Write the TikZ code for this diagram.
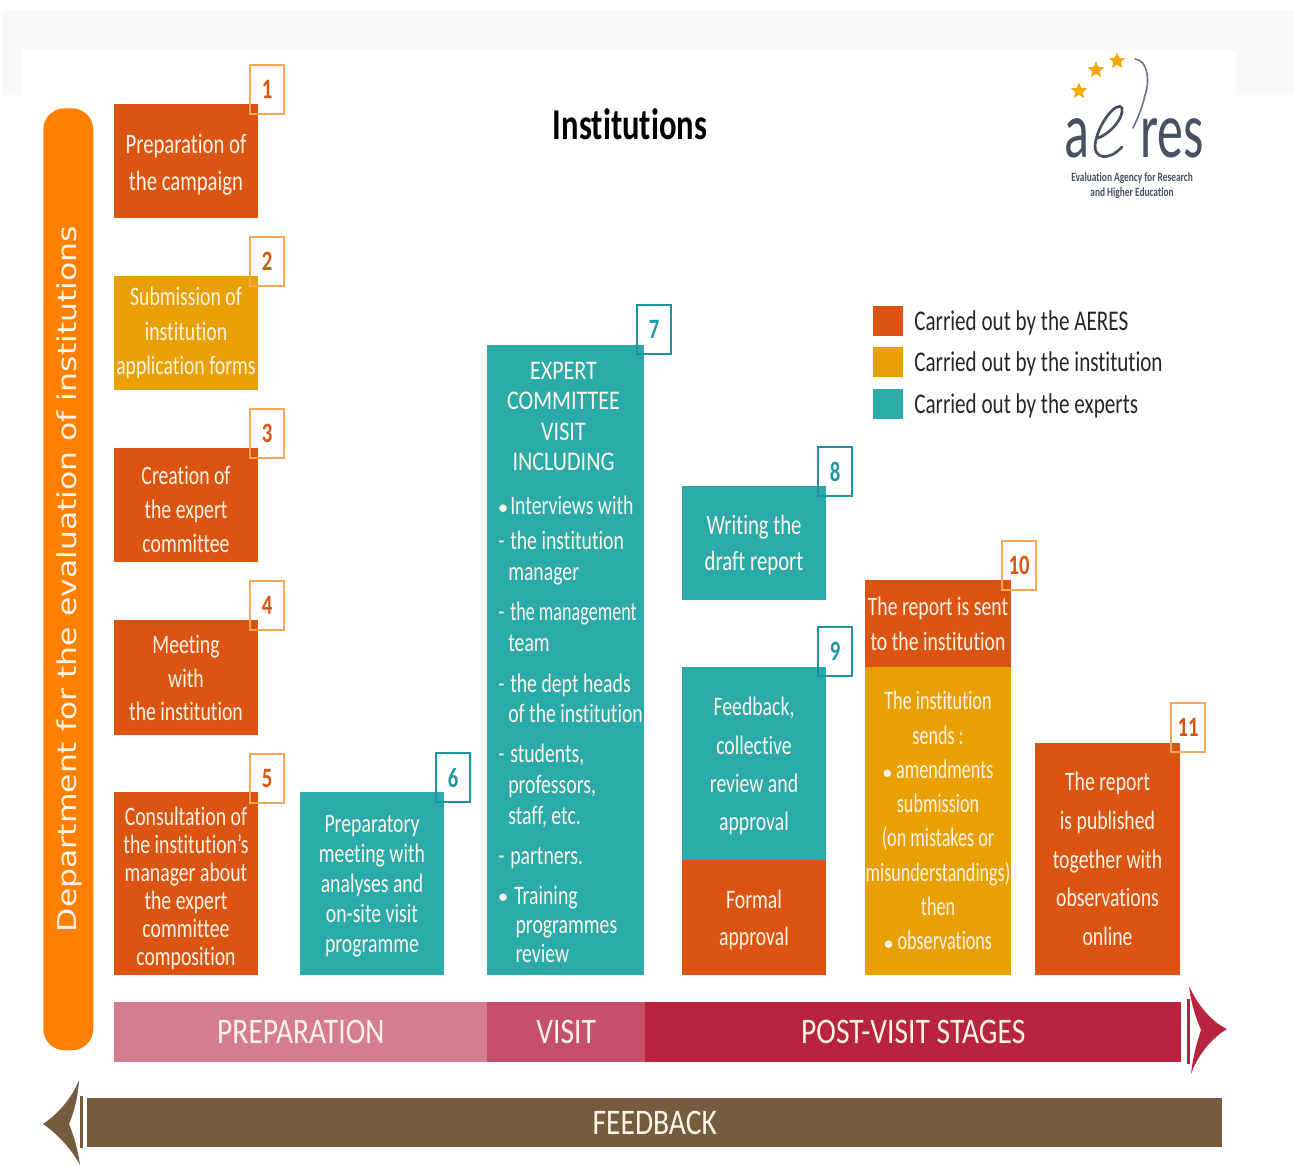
\documentclass[tikz,border=0pt]{standalone}
\usepackage{graphicx}
\usepackage{fontspec}
\setmainfont[FakeStretch=0.74,Ligatures=NoCommon]{Carlito}
\newfontfamily\narrowf[FakeStretch=0.68,Ligatures=NoCommon]{Carlito}
\newfontfamily\widef[FakeStretch=0.82,Ligatures=NoCommon]{Carlito}
\newfontfamily\logof[FakeStretch=0.65,Ligatures=NoCommon]{Carlito}
\newfontfamily\deptfont[FakeStretch=1.21]{DejaVu Sans}
\definecolor{aeres}{HTML}{DC5411}
\definecolor{inst}{HTML}{E8A002}
\definecolor{expert}{HTML}{2AABAA}
\definecolor{tagor}{HTML}{F7A655}
\definecolor{tagte}{HTML}{1E93A0}
\definecolor{prep}{HTML}{D67C8F}
\definecolor{visit}{HTML}{C55068}
\definecolor{post}{HTML}{B8233F}
\definecolor{fb}{HTML}{755C3F}
\definecolor{pill}{HTML}{FF8000}
\definecolor{logoc}{HTML}{465163}
\definecolor{starc}{HTML}{F2A900}
\definecolor{pale}{HTML}{F8F9FA}
\definecolor{txt}{HTML}{FFF4E8}
\usetikzlibrary{shapes.geometric}
\newcommand{\fs}[2]{\fontsize{#1}{#2}\selectfont}
\tikzset{
  stagebox/.style={anchor=north west,inner sep=0pt,outer sep=0pt},
  stagetext/.style={inner sep=0pt,align=center,text=txt},
  tagbox/.style={anchor=north west,inner sep=0pt,outer sep=0pt,draw,line width=1.3pt,font=\bfseries\fs{21}{21},minimum width=25.5pt,minimum height=37pt},
  bartext/.style={text=txt,font=\widef\fs{27}{27}},
  legendbox/.style={anchor=north west,inner sep=0pt,minimum width=22.5pt,minimum height=22.5pt},
  legendtext/.style={anchor=west,inner sep=0pt,text=black!85,font=\fs{21.4}{21.4}},
  logotext/.style={text=logoc,inner sep=0pt},
  starmark/.style={star,star points=5,star point ratio=2.3,fill=starc,inner sep=0pt,minimum size=13pt}
}
% name, x1, y1, x2, y2, colour, font, text shift (px down), text
\newcommand{\stagenode}[9]{%
  \node[stagebox,fill=#6,minimum width={(#4-#2)*0.75pt},minimum height={(#5-#3)*0.75pt}] (#1) at (#2,#3) {};
  \node[stagetext,font=#7,yshift={-(#8)*0.75pt}] (#1t) at (#1.center) {#9};}
\newcommand{\bul}{\makebox[9pt][l]{\fs{15}{15}\raisebox{1pt}{$\bullet$}}}
\newcommand{\dsh}{\makebox[9pt][l]{-}}
\newcommand{\ind}{\hspace*{7.5pt}}
\begin{document}
\begin{tikzpicture}[x=0.75pt,y=-0.75pt]
\useasboundingbox (0,0) rectangle (1294,1165);
\fill[white] (0,0) rectangle (1294,1165);
\fill[pale] (3,10) rectangle (1294,95);
\fill[white] (22,50) rectangle (1236,200);

% department pill
\node[rounded corners=16pt,fill=pill,inner sep=0pt,anchor=north west,minimum width=37.5pt,minimum height=706.5pt] (pillbox) at (43,108) {};
\node[rotate=90,text=txt,font=\deptfont\fs{19.5}{19.5},inner sep=0pt] (depttext) at (69,579) {Department for the evaluation of institutions};

% stages
\stagenode{s1}{114}{104}{258}{218}{aeres}{\fs{21}{27.5}}{4}{Preparation of\\the campaign}
\stagenode{s2}{114}{276}{258}{390}{inst}{\fs{20}{26}}{0}{Submission of\\institution\\application forms}
\stagenode{s3}{114}{448}{258}{562}{aeres}{\fs{20}{25.5}}{4}{Creation of\\the expert\\committee}
\stagenode{s4}{114}{620}{258}{735}{aeres}{\fs{20}{25}}{0.5}{Meeting\\with\\the institution}
\stagenode{s5}{114}{792}{258}{975}{aeres}{\fs{20}{21}}{4.5}{Consultation of\\the institution's\\manager about\\the expert\\committee\\composition}
\stagenode{s6}{300}{792}{444}{975}{expert}{\fs{20}{22.5}}{3}{Preparatory\\meeting with\\analyses and\\on-site visit\\programme}
\node[stagebox,fill=expert,minimum width=118pt,minimum height=472.5pt] (s7) at (487,345) {};
\node[anchor=north,text=txt,align=center,inner sep=0pt,font=\widef\fs{20.2}{22.8}] (s7head) at (563.5,362) {EXPERT\\COMMITTEE\\VISIT\\INCLUDING};
\node[anchor=north west,text=txt,align=left,inner sep=0pt,font=\fs{20}{23}] (s7list) at (498,496) {%
\bul Interviews with\\[3pt]
\dsh the institution\\
\ind manager\\[7.5pt]
\dsh{\narrowf the management}\\
\ind team\\[7.5pt]
\dsh the dept heads\\
\ind of the institution\\[7pt]
\dsh students,\\
\ind professors,\\
\ind staff, etc.\\[7pt]
\dsh partners.\\[7pt]
\makebox[12pt][l]{\fs{15}{15}\raisebox{1pt}{$\bullet$}}Training\\[-1pt]
\hspace*{13pt}programmes\\[-1pt]
\hspace*{13pt}review};
\stagenode{s8}{682}{486}{826}{600}{expert}{\fs{21}{27.5}}{2}{Writing the\\draft report}
\stagenode{s9a}{682}{667}{826}{860}{expert}{\fs{20}{28.6}}{2.5}{Feedback,\\collective\\review and\\approval}
\stagenode{s9b}{682}{860}{826}{975}{aeres}{\fs{20}{28}}{2.5}{Formal\\approval}
\stagenode{s10a}{865}{580}{1011}{667}{aeres}{\fs{20}{26}}{0}{The report is sent\\to the institution}
\stagenode{s10b}{865}{667}{1011}{975}{inst}{\narrowf\fs{20}{25.7}}{-0.5}{The institution\\sends :\\{\fs{15}{15}$\bullet$} amendments\\submission\\(on mistakes or\\misunderstandings)\\then\\{\fs{15}{15}$\bullet$} observations}
\stagenode{s11}{1035}{743}{1180}{975}{aeres}{\fs{20}{29}}{0}{The report\\is published\\together with\\observations\\online}

% number tags
\foreach \n/\x/\y/\c in {1/250/65/tagor,2/250/237/tagor,3/250/409/tagor,4/250/581/tagor,5/250/754/tagor,10/1002/541/tagor,11/1171/703/tagor}
  \node[tagbox,draw=\c,text=aeres] (tag\n) at (\x,\y) {\n};
\foreach \n/\x/\y/\c in {6/436/753/tagte,7/637/305/tagte,8/818/447/tagte,9/818/627/tagte}
  \node[tagbox,draw=\c,text=tagte!80!expert] (tag\n) at (\x,\y) {\n};

% title
\node[font=\bfseries\fs{33}{33},text=black,inner sep=0pt] (title) at (630,124) {Institutions};

% legend
\node[legendbox,fill=aeres] (k1) at (873,306) {};
\node[legendbox,fill=inst] (k2) at (873,347) {};
\node[legendbox,fill=expert] (k3) at (873,389) {};
\node[legendtext] (k1t) at (914,323) {Carried out by the AERES};
\node[legendtext] (k2t) at (914,364) {Carried out by the institution};
\node[legendtext] (k3t) at (914,406) {Carried out by the experts};

% logo
\node[starmark] (st1) at (1079,91) {};
\node[starmark] (st2) at (1096,70) {};
\node[starmark] (st3) at (1117,61) {};
\node[logotext,anchor=base,font=\logof\fs{60}{60}] (la) at (1077,157) {a};
\node[logotext,anchor=base,font=\logof\fs{60}{60}] (lr) at (1172,157) {res};
\draw[logoc,line width=2pt,line cap=round] (1098,138) .. controls (1110,134) and (1124,118) .. (1122,108)
  .. controls (1118,100) and (1098,122) .. (1095,145) .. controls (1094,158) and (1108,162) .. (1122,147);
\draw[logoc!80,line width=1.2pt,line cap=round] (1135,59) .. controls (1148,60) and (1150,82) .. (1145,95) .. controls (1143,105) and (1138,118) .. (1133,128);
\node[logotext,font=\fs{9.5}{9.5}] (l1) at (1132,178) {\textbf{Evaluation Agency for Research}};
\node[logotext,font=\fs{9.5}{9.5}] (l2) at (1132,193) {\textbf{and Higher Education}};

% phase bar
\node[anchor=north west,fill=prep,inner sep=0pt,minimum width=279.75pt,minimum height=45pt,bartext] (bprep) at (114,1002) {PREPARATION};
\node[anchor=north west,fill=visit,inner sep=0pt,minimum width=118.5pt,minimum height=45pt,bartext] (bvisit) at (487,1002) {VISIT};
\node[anchor=north west,fill=post,inner sep=0pt,minimum width=402pt,minimum height=45pt,bartext] (bpost) at (645,1002) {POST-VISIT STAGES};
\fill[post] (1186.5,999) rectangle (1189.5,1064);
\fill[post] (1189,986) .. controls (1198,1006) and (1212,1022) .. (1227,1029)
  .. controls (1212,1038) and (1198,1054) .. (1191,1074)
  .. controls (1193,1056) and (1197,1042) .. (1201,1030)
  .. controls (1196,1018) and (1191,1004) .. (1189,986) -- cycle;

% feedback bar
\node[anchor=north west,fill=fb,inner sep=0pt,minimum width=851.25pt,minimum height=36.75pt,bartext] (bfb) at (87,1098) {FEEDBACK};
\fill[fb] (80,1096) rectangle (82.5,1148);
\fill[fb] (79,1080) .. controls (72,1098) and (58,1114) .. (43,1124)
  .. controls (58,1134) and (72,1150) .. (80,1165)
  .. controls (78,1150) and (74,1136) .. (69,1124)
  .. controls (74,1112) and (78,1098) .. (79,1080) -- cycle;
\end{tikzpicture}
\end{document}
